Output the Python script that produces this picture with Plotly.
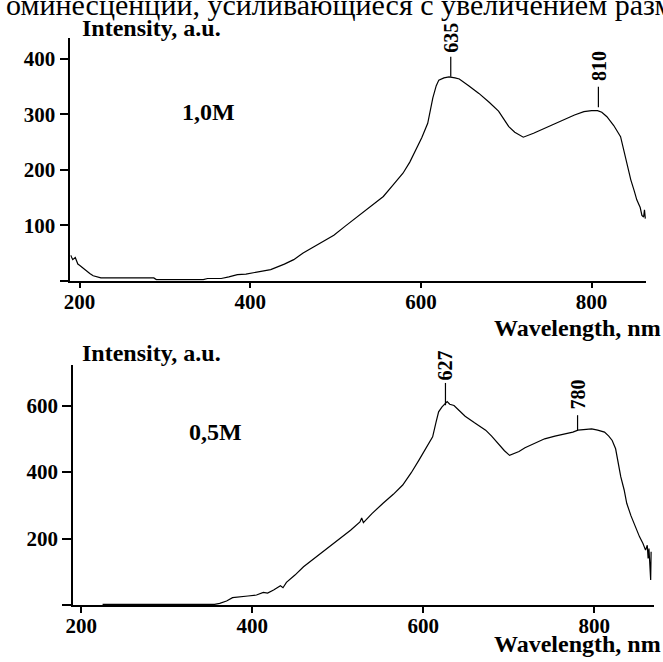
import plotly.graph_objects as go

# ---- data: 1,0M sample ----
wl_10 = [189.6, 192, 195, 198, 200, 203, 206, 209, 212, 216, 220, 225, 240, 260, 287, 290, 300, 320, 345,
         350, 366, 375, 385, 395, 408, 424, 440, 451, 462, 474, 486, 498, 511, 525, 540, 556, 567, 579,
         587, 594, 601, 608, 611, 614, 618, 621, 627, 633, 640, 645, 656, 668, 680, 691, 697, 703, 710,
         720, 732, 745, 757, 768, 780, 791, 800, 807, 812, 818, 826, 834, 837, 840, 843, 846, 850, 853,
         857, 859, 861, 862, 863]
int_10 = [46, 38, 42, 30, 28, 24, 20, 16, 13, 9, 7, 5, 5, 5, 5, 2, 2, 2, 2,
          4, 4, 7, 11, 12, 15, 20, 30, 38, 50, 61, 71, 82, 98, 115, 132, 152, 172, 194,
          214, 236, 258, 284, 310, 330, 352, 362, 366, 368, 366, 364, 352, 338, 322, 306, 292, 278, 268,
          259, 266, 275, 284, 292, 299, 305, 307, 307, 304, 296, 280, 260, 240, 224, 205, 182, 162, 146,
          132, 118, 115, 128, 112]

# ---- data: 0,5M sample ----
wl_05 = [225, 250, 300, 340, 356, 362, 370, 377, 385, 395, 405, 413, 418, 425, 433, 436, 440, 450, 460,
         470, 480, 491, 495, 505, 515, 526, 528, 530, 540, 553, 565, 576, 586, 595, 603, 611, 615, 618,
         622, 626, 628, 631, 636, 642, 649, 660, 673, 680, 688, 695, 701, 706, 712, 719, 730, 742, 754,
         765, 775, 781, 790, 797, 804, 812, 817, 821, 825, 828, 831, 835, 838, 843, 848, 853, 857, 860,
         862, 863, 864, 865, 866, 866.5]
int_05 = [2, 2, 2, 2, 2, 5, 12, 22, 25, 27, 30, 38, 36, 45, 58, 52, 68, 90, 115,
          135, 155, 175, 185, 205, 225, 250, 262, 248, 275, 306, 333, 361, 398, 436, 470, 506, 550, 581,
          596, 606, 612, 604, 600, 585, 568, 548, 526, 508, 483, 464, 450, 455, 462, 473, 487, 500, 508,
          514, 520, 526, 527, 530, 526, 520, 508, 495, 470, 430, 386, 346, 306, 268, 236, 205, 185, 165,
          180, 140, 170, 110, 75, 160]

# ---- tick labels ----
x_ticks = [200, 400, 600, 800]
y_ticks_10 = [0, 100, 200, 300, 400]
y_ticks_05 = [0, 200, 400, 600]

# ---- peak labels: (label, x, line bottom, line top, text y) ----
peaks_10 = [("635", 635, 368, 404, 438), ("810", 808, 313, 350, 388)]
peaks_05 = [("627", 626, 601, 668, 722), ("780", 780.5, 526, 571, 632)]

FONT = "Liberation Serif"
BLACK = "#000000"

fig = go.Figure()
fig.add_trace(go.Scatter(x=wl_10, y=int_10, mode="lines", line=dict(color=BLACK, width=1.2),
                         xaxis="x", yaxis="y", showlegend=False, hoverinfo="skip"))
fig.add_trace(go.Scatter(x=wl_05, y=int_05, mode="lines", line=dict(color=BLACK, width=1.2),
                         xaxis="x2", yaxis="y2", showlegend=False, hoverinfo="skip"))

tickfont = dict(family=FONT, size=21, color=BLACK, weight="bold")

def xax(domain, rng, anchor):
    return dict(domain=domain, range=rng, anchor=anchor, showline=True, linecolor=BLACK, linewidth=1.5,
                ticks="outside", ticklen=6, tickwidth=1.5, tickcolor=BLACK, tickvals=x_ticks,
                ticktext=[str(v) for v in x_ticks], tickfont=tickfont, showgrid=False, zeroline=False,
                ticklabelstandoff=-5)

def yax(domain, rng, anchor, vals):
    return dict(domain=domain, range=rng, anchor=anchor, showline=True, linecolor=BLACK, linewidth=1.5,
                ticks="outside", ticklen=9, tickwidth=1.5, tickcolor=BLACK, tickvals=vals,
                ticktext=[""] + [str(v) for v in vals[1:]], tickfont=tickfont, showgrid=False,
                zeroline=False)

W, H = 663, 662
fig.update_layout(
    width=W, height=H, margin=dict(l=0, r=0, t=0, b=0),
    paper_bgcolor="white", plot_bgcolor="white",
    xaxis=xax([64 / W, 646 / W], [189.2, 864], "y"),
    yaxis=yax([1 - 280.7 / H, 1 - 38 / H], [0, 438], "x", y_ticks_10),
    xaxis2=xax([66.7 / W, 654 / W], [190.4, 870], "y2"),
    yaxis2=yax([1 - 605 / H, 1 - 365 / H], [0, 722], "x2", y_ticks_05),
)

ann = []
bold = dict(family=FONT, size=24, color=BLACK, weight="bold")
# cut-off caption text at very top
ann.append(dict(xref="paper", yref="paper", x=0, y=1 - 23 / H, xanchor="left", yanchor="bottom",
                text="оминесценции, усиливающиеся с увеличением размера", showarrow=False,
                font=dict(family=FONT, size=30, color=BLACK), xshift=-3))
# axis titles
ann.append(dict(xref="paper", yref="paper", x=74 / W, y=1 - 28 / H, xanchor="left", yanchor="middle",
                text="Intensity, a.u.", showarrow=False, font=bold))
ann.append(dict(xref="paper", yref="paper", x=74 / W, y=1 - 353 / H, xanchor="left", yanchor="middle",
                text="Intensity, a.u.", showarrow=False, font=bold))
ann.append(dict(xref="paper", yref="paper", x=1.0, y=1 - 328 / H, xanchor="right", yanchor="middle",
                text="Wavelength, nm", showarrow=False, font=bold))
ann.append(dict(xref="paper", yref="paper", x=1.0, y=1 - 644 / H, xanchor="right", yanchor="middle",
                text="Wavelength, nm", showarrow=False, font=bold))
# sample labels
ann.append(dict(xref="paper", yref="paper", x=204 / W, y=1 - 112 / H, xanchor="center", yanchor="middle",
                text="1,0M", showarrow=False, font=bold))
ann.append(dict(xref="paper", yref="paper", x=211 / W, y=1 - 432 / H, xanchor="center", yanchor="middle",
                text="0,5M", showarrow=False, font=bold))

shapes = []
for peaks, xr, yr in [(peaks_10, "x", "y"), (peaks_05, "x2", "y2")]:
    for lab, px, y0, y1, ty in peaks:
        shapes.append(dict(type="line", xref=xr, yref=yr, x0=px, x1=px, y0=y0, y1=y1,
                           line=dict(color=BLACK, width=1.2)))
        ann.append(dict(xref=xr, yref=yr, x=px, y=ty, text=lab, textangle=-90, showarrow=False,
                        xanchor="center", yanchor="middle",
                        font=dict(family=FONT, size=20, color=BLACK, weight="bold")))

fig.update_layout(annotations=ann, shapes=shapes)
fig.write_html("out.html", config={"displayModeBar": False},
               post_script="document.body.style.margin='0';document.body.style.overflow='hidden';")
